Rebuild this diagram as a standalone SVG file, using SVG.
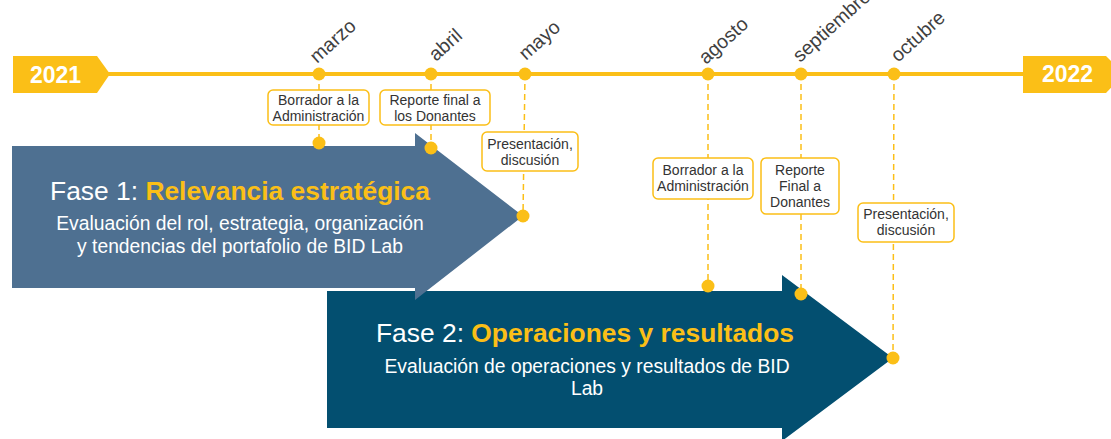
<svg xmlns="http://www.w3.org/2000/svg" width="1111" height="439" viewBox="0 0 1111 439">
<style>
.yl{fill:#fbbf17}
.dash{stroke:#fbbf17;stroke-width:1.5;stroke-dasharray:6 4;fill:none}
.box{fill:#fff;stroke:#fbbf17;stroke-width:1.5}
.bt{font-family:"Liberation Sans",Arial,sans-serif;font-size:14px;fill:#333;text-anchor:middle}
.mo{font-family:"Liberation Sans",Arial,sans-serif;font-size:19.5px;fill:#404040}
.yr{font-family:"Liberation Sans",Arial,sans-serif;font-size:23px;font-weight:bold;fill:#fff}
.ti{font-family:"Liberation Sans",Arial,sans-serif;font-size:26.4px;fill:#fff;text-anchor:middle}
.ti tspan.b{font-weight:bold;fill:#fbbf17}
.st{font-family:"Liberation Sans",Arial,sans-serif;font-size:19.3px;fill:#fff;text-anchor:middle}
</style>
<rect width="1111" height="439" fill="#fff"/>
<g id="phase2">
<polygon points="327,291 782,291 782,275 893,358 782,441 782,428 327,428" fill="#034f70"/>
<text class="ti" x="585" y="342">Fase 2: <tspan class="b">Operaciones y resultados</tspan></text>
<text class="st" x="587" y="373">Evaluación de operaciones y resultados de BID</text>
<text class="st" x="587" y="395">Lab</text>
</g>
<g id="phase1">
<polygon points="12,146 415,146 415,133 523,216 415,300 415,288 12,288" fill="#4e7091"/>
<text class="ti" x="240" y="200">Fase 1: <tspan class="b">Relevancia estratégica</tspan></text>
<text class="st" x="240" y="230">Evaluación del rol, estrategia, organización</text>
<text class="st" x="240" y="253">y tendencias del portafolio de BID Lab</text>
</g>
<g id="timeline">
<line x1="100" y1="74" x2="1030" y2="74" stroke="#fbbf17" stroke-width="4"/>
</g>
<g id="badge-2021">
<polygon class="yl" points="13,56 97,56 110,74 97,93 13,93"/>
<text class="yr" x="30" y="83">2021</text>
</g>
<g id="badge-2022">
<polygon class="yl" points="1023,56 1106,56 1124,74 1106,93 1023,93"/>
<text class="yr" x="1042" y="82">2022</text>
</g>
<g id="connectors">
<line class="dash" x1="319" y1="74" x2="319" y2="143"/>
<line class="dash" x1="431" y1="74" x2="431" y2="148"/>
<line class="dash" x1="525" y1="74" x2="523" y2="216"/>
<line class="dash" x1="708" y1="74" x2="708" y2="286"/>
<line class="dash" x1="801" y1="74" x2="801" y2="294"/>
<line class="dash" x1="894" y1="74" x2="893" y2="358"/>
</g>
<g id="m-marzo">
<circle class="yl" cx="319" cy="74" r="6.5"/>
<text class="mo" transform="translate(317,64) rotate(-42)">marzo</text>
<rect class="box" x="268" y="90" width="101" height="35" rx="5"/>
<text class="bt" x="318.5" y="105">Borrador a la</text>
<text class="bt" x="318.5" y="121">Administración</text>
<circle class="yl" cx="319" cy="143" r="6.5"/>
</g>
<g id="m-abril">
<circle class="yl" cx="431" cy="74" r="6.5"/>
<text class="mo" transform="translate(436,62) rotate(-42)">abril</text>
<rect class="box" x="380" y="90" width="110" height="35" rx="5"/>
<text class="bt" x="435" y="105">Reporte final a</text>
<text class="bt" x="435" y="121">los Donantes</text>
<circle class="yl" cx="431" cy="148" r="6.5"/>
</g>
<g id="m-mayo">
<circle class="yl" cx="525" cy="74" r="6.5"/>
<text class="mo" transform="translate(526,61) rotate(-42)">mayo</text>
<rect class="box" x="482" y="132" width="96" height="39" rx="5"/>
<text class="bt" x="530" y="149">Presentación,</text>
<text class="bt" x="530" y="165">discusión</text>
<circle class="yl" cx="523" cy="216" r="6.5"/>
</g>
<g id="m-agosto">
<circle class="yl" cx="708" cy="74" r="6.5"/>
<text class="mo" transform="translate(706,65) rotate(-42)">agosto</text>
<rect class="box" x="653" y="158" width="100" height="41" rx="5"/>
<text class="bt" x="703" y="175">Borrador a la</text>
<text class="bt" x="703" y="191">Administración</text>
<circle class="yl" cx="708" cy="286" r="6.5"/>
</g>
<g id="m-septiembre">
<circle class="yl" cx="801" cy="74" r="6.5"/>
<text class="mo" transform="translate(800,63) rotate(-42)">septiembre</text>
<rect class="box" x="761" y="158" width="78" height="56" rx="5"/>
<text class="bt" x="800" y="175">Reporte</text>
<text class="bt" x="800" y="191">Final a</text>
<text class="bt" x="800" y="207">Donantes</text>
<circle class="yl" cx="801" cy="294" r="6.5"/>
</g>
<g id="m-octubre">
<circle class="yl" cx="894" cy="74" r="6.5"/>
<text class="mo" transform="translate(898,63) rotate(-42)">octubre</text>
<rect class="box" x="858" y="203" width="96" height="39" rx="5"/>
<text class="bt" x="906" y="219">Presentación,</text>
<text class="bt" x="906" y="235">discusión</text>
<circle class="yl" cx="893" cy="358" r="6.5"/>
</g>
</svg>
